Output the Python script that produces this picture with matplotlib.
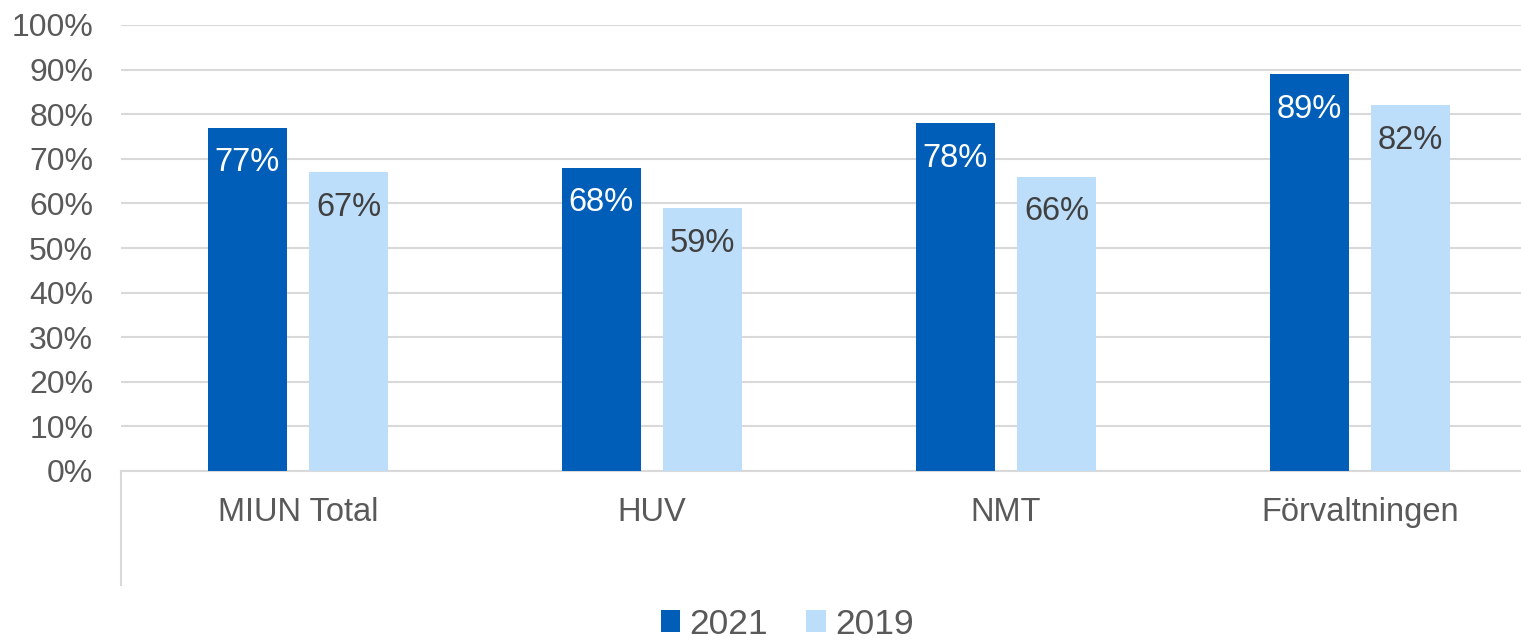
import matplotlib.pyplot as plt
import numpy as np

categories = ['MIUN Total', 'HUV', 'NMT', 'Förvaltningen']
vals_2021 = [77, 68, 78, 89]
vals_2019 = [67, 59, 66, 82]
series_names = ['2021', '2019']

plt.rcParams['font.family'] = ['Liberation Sans', 'DejaVu Sans']

dark = '#005EB8'
light = '#BDDEFB'
txt = '#595959'

fig = plt.figure(figsize=(15.21, 6.42), dpi=100)
# plot area runs a bit past the right edge, as in the source
ax = fig.add_axes([121 / 1521, 171 / 642, 1416 / 1521, 446 / 642])

x = np.arange(len(categories))
w = 0.224
off = 0.143
b1 = ax.bar(x - off, vals_2021, w, color=dark, label=series_names[0], zorder=3)
b2 = ax.bar(x + off, vals_2019, w, color=light, label=series_names[1], zorder=3)

for rect, v in zip(b1, vals_2021):
    ax.text(rect.get_x() + rect.get_width() / 2, v - 7.9, f'{v}%', ha='center', va='center',
            color='white', fontsize=23.5, zorder=4)
for rect, v in zip(b2, vals_2019):
    ax.text(rect.get_x() + rect.get_width() / 2, v - 7.9, f'{v}%', ha='center', va='center',
            color='#404040', fontsize=23.5, zorder=4)

ax.set_xlim(-0.5, 3.5)
ax.set_ylim(0, 100)
ax.set_yticks(np.arange(0, 101, 10))
ax.set_yticklabels([f'{t}%' for t in range(0, 101, 10)])
ax.set_xticks(x)
ax.set_xticklabels(categories)
ax.tick_params(axis='both', length=0, labelsize=23, colors=txt)
ax.tick_params(axis='x', pad=19, labelsize=23.5)
ax.tick_params(axis='y', pad=20)
ax.grid(axis='y', color='#D9D9D9', linewidth=1.5, zorder=0)
for s in ['top', 'right', 'left']:
    ax.spines[s].set_visible(False)
ax.spines['bottom'].set_color('#D9D9D9')
ax.spines['bottom'].set_linewidth(1.5)
ax.plot([0, 0], [0, -0.256], transform=ax.transAxes, color='#D9D9D9',
        linewidth=1.5, clip_on=False)

fig.legend(handles=[b1, b2], loc='center', bbox_to_anchor=(787 / 1521, 18 / 642),
           ncol=2, frameon=False, fontsize=25.5, labelcolor=txt, handlelength=0.55,
           handleheight=0.55, handletextpad=0.25, columnspacing=1.1, borderpad=0.1)

fig.savefig('out.png', dpi=100)
